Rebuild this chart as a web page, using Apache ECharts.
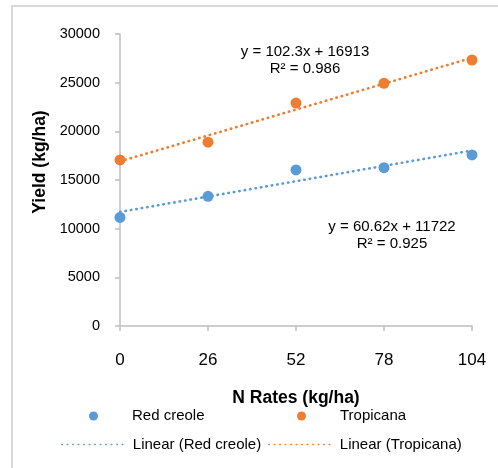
<!DOCTYPE html>
<html>
<head>
<meta charset="utf-8">
<script src="https://cdn.jsdelivr.net/npm/echarts@6/dist/echarts.min.js"></script>
<style>
  html, body { margin: 0; padding: 0; background: #fff; }
  #chart { width: 498px; height: 468px; }
</style>
</head>
<body>
<div id="chart"></div>
<script>
// data
const nRates = [0, 26, 52, 78, 104];
const redCreole = [11150, 13320, 16030, 16270, 17570];
const tropicana = [17060, 18880, 22900, 24940, 27330];
// trendline equations shown on the chart: [slope, intercept]
const trendRed = [60.62, 11722];
const trendTrop = [102.3, 16913];
const eqRed = ['y = 60.62x + 11722', 'R² = 0.925'];
const eqTrop = ['y = 102.3x + 16913', 'R² = 0.986'];

const BLUE = '#5B9BD5';
const ORANGE = '#ED7D31';
const FONT = 'Liberation Sans, Arial, sans-serif';

function pairs(xs, ys) {
  return xs.map((x, i) => [x, ys[i]]);
}
function trend(c) {
  const x0 = nRates[0], x1 = nRates[nRates.length - 1];
  return [[x0, c[0] * x0 + c[1]], [x1, c[0] * x1 + c[1]]];
}

const dotted = { type: [0.5, 5], cap: 'round', width: 2.6 };
const legendText = { fontFamily: FONT, fontSize: 15, color: '#000' };

// dot legends: icon is drawn at the left, so push the text out with padding
function dotLegend(name, left) {
  return {
    data: [name], left: left, top: 408.5, padding: 0,
    itemWidth: 9, itemHeight: 9, selectedMode: false,
    textStyle: Object.assign({ padding: [0, 0, 0, 29] }, legendText)
  };
}
function lineLegend(name, left) {
  return {
    data: [name], left: left, top: 437, padding: 0,
    itemWidth: 66, itemHeight: 14, selectedMode: false,
    textStyle: legendText,
    lineStyle: { width: 1.6 }
  };
}

let chart = echarts.init(document.getElementById('chart'));
chart.setOption({
  animation: false,
  grid: { left: 120, right: 26, top: 34, bottom: 142 },
  xAxis: {
    type: 'value', min: 0, max: 104, interval: 26,
    name: 'N Rates (kg/ha)', nameLocation: 'middle', nameGap: 63,
    nameTextStyle: { fontFamily: FONT, fontSize: 17.5, fontWeight: 'bold', color: '#000' },
    axisLine: { lineStyle: { color: '#BFBFBF', width: 1.5 } },
    axisTick: { show: true, length: 5, lineStyle: { color: '#BFBFBF', width: 1.5 } },
    axisLabel: { fontFamily: FONT, fontSize: 17, color: '#000', margin: 26 },
    splitLine: { show: false }
  },
  yAxis: {
    type: 'value', min: 0, max: 30000, interval: 5000,
    name: 'Yield (kg/ha)', nameLocation: 'middle', nameGap: 70,
    nameTextStyle: { fontFamily: FONT, fontSize: 17.5, fontWeight: 'bold', color: '#000', padding: [0, 0, 0, 36] },
    axisLine: { show: true, lineStyle: { color: '#BFBFBF', width: 1.5 } },
    axisTick: { show: true, length: 5, lineStyle: { color: '#BFBFBF', width: 1.5 } },
    axisLabel: { fontFamily: FONT, fontSize: 14.5, color: '#000', margin: 20, formatter: v => String(v) },
    splitLine: { show: false }
  },
  legend: [
    dotLegend('Red creole', 89),
    dotLegend('Tropicana', 297),
    lineLegend('Linear (Red creole)', 61),
    lineLegend('Linear (Tropicana)', 268)
  ],
  graphic: [
    { type: 'rect', shape: { x: 12, y: 6, width: 600, height: 600 }, style: { fill: 'none', stroke: '#D9D9D9', lineWidth: 2 }, z: -1 },
    { type: 'text', x: 305, y: 52, style: { text: eqTrop[0], font: '15px ' + FONT, fill: '#000', align: 'center', verticalAlign: 'middle' } },
    { type: 'text', x: 305, y: 69, style: { text: eqTrop[1], font: '15px ' + FONT, fill: '#000', align: 'center', verticalAlign: 'middle' } },
    { type: 'text', x: 392, y: 227, style: { text: eqRed[0], font: '15px ' + FONT, fill: '#000', align: 'center', verticalAlign: 'middle' } },
    { type: 'text', x: 392, y: 244, style: { text: eqRed[1], font: '15px ' + FONT, fill: '#000', align: 'center', verticalAlign: 'middle' } }
  ],
  series: [
    {
      name: 'Red creole', type: 'scatter', symbol: 'circle', symbolSize: 11,
      itemStyle: { color: BLUE, opacity: 1 }, z: 3,
      data: pairs(nRates, redCreole)
    },
    {
      name: 'Tropicana', type: 'scatter', symbol: 'circle', symbolSize: 11,
      itemStyle: { color: ORANGE, opacity: 1 }, z: 3,
      data: pairs(nRates, tropicana)
    },
    {
      name: 'Linear (Red creole)', type: 'line', symbol: 'none', z: 2,
      itemStyle: { color: 'rgba(0,0,0,0)' }, lineStyle: Object.assign({ color: BLUE }, dotted),
      data: trend(trendRed)
    },
    {
      name: 'Linear (Tropicana)', type: 'line', symbol: 'none', z: 2,
      itemStyle: { color: 'rgba(0,0,0,0)' }, lineStyle: Object.assign({ color: ORANGE }, dotted),
      data: trend(trendTrop)
    }
  ]
});
</script>
</body>
</html>
